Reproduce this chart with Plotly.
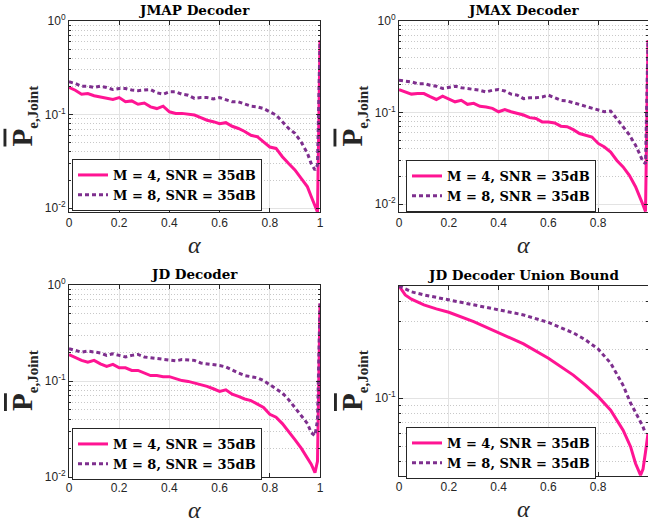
import plotly.graph_objects as go
import math

# ---------------- data ----------------
alpha_noisy = [0, 0.025, 0.05, 0.075, 0.1, 0.125, 0.15, 0.175, 0.2, 0.225, 0.25, 0.275, 0.3, 0.325,
               0.35, 0.375, 0.4, 0.425, 0.45, 0.475, 0.5, 0.525, 0.55, 0.575, 0.6, 0.625, 0.65, 0.675,
               0.7, 0.725, 0.75, 0.775, 0.8, 0.825, 0.85, 0.875, 0.9, 0.925, 0.95, 0.965, 0.98, 0.99, 1.0]

jmap_m4 = [0.195, 0.182, 0.165, 0.168, 0.159, 0.155, 0.149, 0.145, 0.152, 0.137, 0.14, 0.129, 0.133, 0.121,
           0.116, 0.123, 0.107, 0.103, 0.103, 0.101, 0.099, 0.093, 0.087, 0.084, 0.080, 0.082, 0.075, 0.071,
           0.066, 0.060, 0.058, 0.051, 0.045, 0.0435, 0.0355, 0.030, 0.0256, 0.0208, 0.0169, 0.0133, 0.0108, 0.0091, 0.62]
jmap_m8 = [0.224, 0.215, 0.201, 0.201, 0.195, 0.201, 0.195, 0.185, 0.19, 0.19, 0.183, 0.18, 0.183, 0.185,
           0.171, 0.165, 0.175, 0.175, 0.165, 0.161, 0.149, 0.152, 0.152, 0.147, 0.152, 0.145, 0.137, 0.137,
           0.129, 0.123, 0.121, 0.116, 0.107, 0.099, 0.084, 0.071, 0.063, 0.051, 0.0385, 0.030, 0.0256, 0.029, 0.62]

jmax_m4 = [0.178, 0.168, 0.159, 0.161, 0.161, 0.149, 0.139, 0.151, 0.142, 0.131, 0.136, 0.123, 0.126, 0.117,
           0.115, 0.111, 0.102, 0.108, 0.102, 0.098, 0.094, 0.088, 0.086, 0.079, 0.079, 0.077, 0.071, 0.070,
           0.065, 0.059, 0.057, 0.054, 0.046, 0.042, 0.037, 0.030, 0.0255, 0.0206, 0.0155, 0.0125, 0.0098, 0.0083, 0.62]
jmax_m8 = [0.225, 0.221, 0.216, 0.207, 0.207, 0.199, 0.194, 0.183, 0.187, 0.194, 0.187, 0.183, 0.178, 0.175,
           0.168, 0.175, 0.178, 0.172, 0.159, 0.155, 0.142, 0.145, 0.145, 0.148, 0.155, 0.145, 0.136, 0.134,
           0.128, 0.123, 0.117, 0.111, 0.106, 0.102, 0.104, 0.086, 0.070, 0.057, 0.044, 0.036, 0.029, 0.0277, 0.62]

jd_m4 = [0.188, 0.175, 0.164, 0.157, 0.164, 0.151, 0.142, 0.149, 0.137, 0.137, 0.129, 0.129, 0.121, 0.114,
         0.114, 0.111, 0.111, 0.105, 0.101, 0.099, 0.095, 0.092, 0.088, 0.083, 0.078, 0.081, 0.073, 0.069,
         0.065, 0.0625, 0.057, 0.053, 0.045, 0.042, 0.036, 0.030, 0.0245, 0.020, 0.016, 0.0136, 0.0111, 0.0146, 0.64]
jd_m8 = [0.217, 0.209, 0.2, 0.205, 0.2, 0.196, 0.185, 0.192, 0.185, 0.178, 0.185, 0.189, 0.178, 0.175,
         0.171, 0.167, 0.167, 0.162, 0.167, 0.164, 0.164, 0.154, 0.151, 0.149, 0.145, 0.14, 0.129, 0.121,
         0.114, 0.11, 0.108, 0.101, 0.092, 0.083, 0.075, 0.064, 0.053, 0.0437, 0.036, 0.029, 0.027, 0.039, 0.64]

ub_alpha_m4 = [0, 0.025, 0.05, 0.1, 0.15, 0.2, 0.3, 0.4, 0.5, 0.6, 0.7, 0.75, 0.8, 0.85, 0.9, 0.93,
               0.95, 0.97, 0.98, 0.99, 1.0]
ub_m4 = [0.5, 0.44, 0.414, 0.381, 0.36, 0.343, 0.30, 0.256, 0.2175, 0.177, 0.139, 0.12, 0.102, 0.084,
         0.063, 0.0497, 0.039, 0.033, 0.036, 0.046, 0.06]
ub_alpha_m8 = [0, 0.05, 0.1, 0.2, 0.3, 0.4, 0.5, 0.6, 0.7, 0.75, 0.8, 0.85, 0.9, 0.93, 0.96, 0.98, 0.99]
ub_m8 = [0.5, 0.46, 0.44, 0.41, 0.385, 0.355, 0.33, 0.296, 0.255, 0.23, 0.202, 0.165, 0.12, 0.093,
         0.076, 0.066, 0.06]

titles = ["JMAP Decoder", "JMAX Decoder", "JD Decoder", "JD Decoder Union Bound"]
series_names = ["M = 4, SNR = 35dB", "M = 8, SNR = 35dB"]
x_ticks = [0, 0.2, 0.4, 0.6, 0.8, 1]
x_ticktext = ["0", "0.2", "0.4", "0.6", "0.8", "1"]
y_ticks = [0.01, 0.1, 1]
y_ticktext = ["10<sup>-2</sup>", "10<sup>-1</sup>", "10<sup>0</sup>"]

# ---------------- style ----------------
W, H = 648, 523
PINK = "#FF1493"
PURPLE = "#7E2F8E"
AX = "#262626"
SERIF = "DejaVu Serif"
SANS = "Liberation Sans"

# panel pixel boxes: (left, right, top, bottom)
boxes = [(69, 320, 21, 212), (399, 648, 21, 212), (69, 320, 285, 477), (399, 648, 286, 476)]
yranges = [[math.log10(0.0091), 0], [math.log10(0.0082), 0], [-2, 0],
           [math.log10(0.0326), math.log10(0.5)]]
legend_pos = [(72, 159), (406, 160), (72, 428), (406, 427)]

panels = [
    (alpha_noisy, jmap_m4, alpha_noisy, jmap_m8),
    (alpha_noisy, jmax_m4, alpha_noisy, jmax_m8),
    (alpha_noisy, jd_m4, alpha_noisy, jd_m8),
    (ub_alpha_m4, ub_m4, ub_alpha_m8, ub_m8),
]

minor_vals = [v * 0.01 for v in range(2, 10)] + [v * 0.1 for v in range(2, 10)]

fig = go.Figure()
layout = dict(width=W, height=H, margin=dict(l=0, r=0, t=0, b=0, autoexpand=False),
              paper_bgcolor="white", plot_bgcolor="white", showlegend=True)
annotations = []

for i, ((xa, ya, xb, yb), (l, r, t, b)) in enumerate(zip(panels, boxes)):
    n = i + 1
    xs = "x" if n == 1 else f"x{n}"
    ys = "y" if n == 1 else f"y{n}"
    lg = "legend" if n == 1 else f"legend{n}"
    fig.add_trace(go.Scatter(x=xa, y=ya, mode="lines", name=f"<b>{series_names[0]}</b>",
                             line=dict(color=PINK, width=3), xaxis=xs, yaxis=ys, legend=lg))
    fig.add_trace(go.Scatter(x=xb, y=yb, mode="lines", name=f"<b>{series_names[1]}</b>",
                             line=dict(color=PURPLE, width=3, dash="4px,3px"), xaxis=xs, yaxis=ys, legend=lg))
    xkey = "xaxis" if n == 1 else f"xaxis{n}"
    ykey = "yaxis" if n == 1 else f"yaxis{n}"
    layout[xkey] = dict(domain=[l / W, r / W], anchor=ys, range=[0, 1], automargin=False,
                        tickmode="array", tickvals=x_ticks, ticktext=x_ticktext,
                        ticks="inside", ticklen=4, tickcolor=AX, showline=True, linecolor=AX,
                        linewidth=1, mirror="ticks", showgrid=True, gridcolor="#e3e3e3", gridwidth=1,
                        zeroline=False, tickfont=dict(family=SANS, size=12, color=AX))
    layout[ykey] = dict(domain=[1 - b / H, 1 - t / H], anchor=xs, type="log", range=yranges[i],
                        automargin=False,
                        tickmode="array", tickvals=y_ticks, ticktext=y_ticktext,
                        ticks="inside", ticklen=4, tickcolor=AX, showline=True, linecolor=AX,
                        linewidth=1, mirror="ticks", showgrid=True, gridcolor="#e3e3e3", gridwidth=1,
                        zeroline=False, tickfont=dict(family=SANS, size=12, color=AX),
                        minor=dict(tickmode="array", tickvals=minor_vals, ticks="inside", ticklen=2,
                                   tickcolor=AX, showgrid=True, gridcolor="#c8c8c8", griddash="1px,2px",
                                   gridwidth=1))
    lx, ly = legend_pos[i]
    layout[lg] = dict(x=lx / W, y=1 - ly / H, xanchor="left", yanchor="top",
                      bgcolor="white", bordercolor=AX, borderwidth=1,
                      font=dict(family=SERIF, size=13, color="black"),
                      tracegroupgap=0, itemwidth=30)
    cx = ((l + r) / 2) / W
    # title
    annotations.append(dict(text=f"<b>{titles[i]}</b>", x=cx, y=1 - (t - 11) / H, xref="paper", yref="paper",
                            showarrow=False, font=dict(family=SERIF, size=13.5, color="black"),
                            xanchor="center", yanchor="middle"))
    # x label
    annotations.append(dict(text="<i>α</i>", x=((l + r) / 2 if n in (1, 3) else 523) / W,
                            y=1 - (b + 33) / H, xref="paper", yref="paper", showarrow=False,
                            font=dict(family="Liberation Serif", size=24, color=AX),
                            xanchor="center", yanchor="middle"))
    # y label
    annotations.append(dict(text="<b><span style='text-decoration:overline'>P</span>"
                                 "<sub><span style='font-size:15px'>e,Joint</span></sub></b>",
                            x=(l - 46) / W, y=1 - ((t + b) / 2) / H, xref="paper", yref="paper",
                            showarrow=False, textangle=-90,
                            font=dict(family="Liberation Serif", size=29, color=AX),
                            xanchor="center", yanchor="middle"))

layout["annotations"] = annotations
fig.update_layout(**layout)
fig.write_html("out.html", config={"displayModeBar": False},
               post_script="document.body.style.margin='0';document.body.style.overflow='hidden';")
